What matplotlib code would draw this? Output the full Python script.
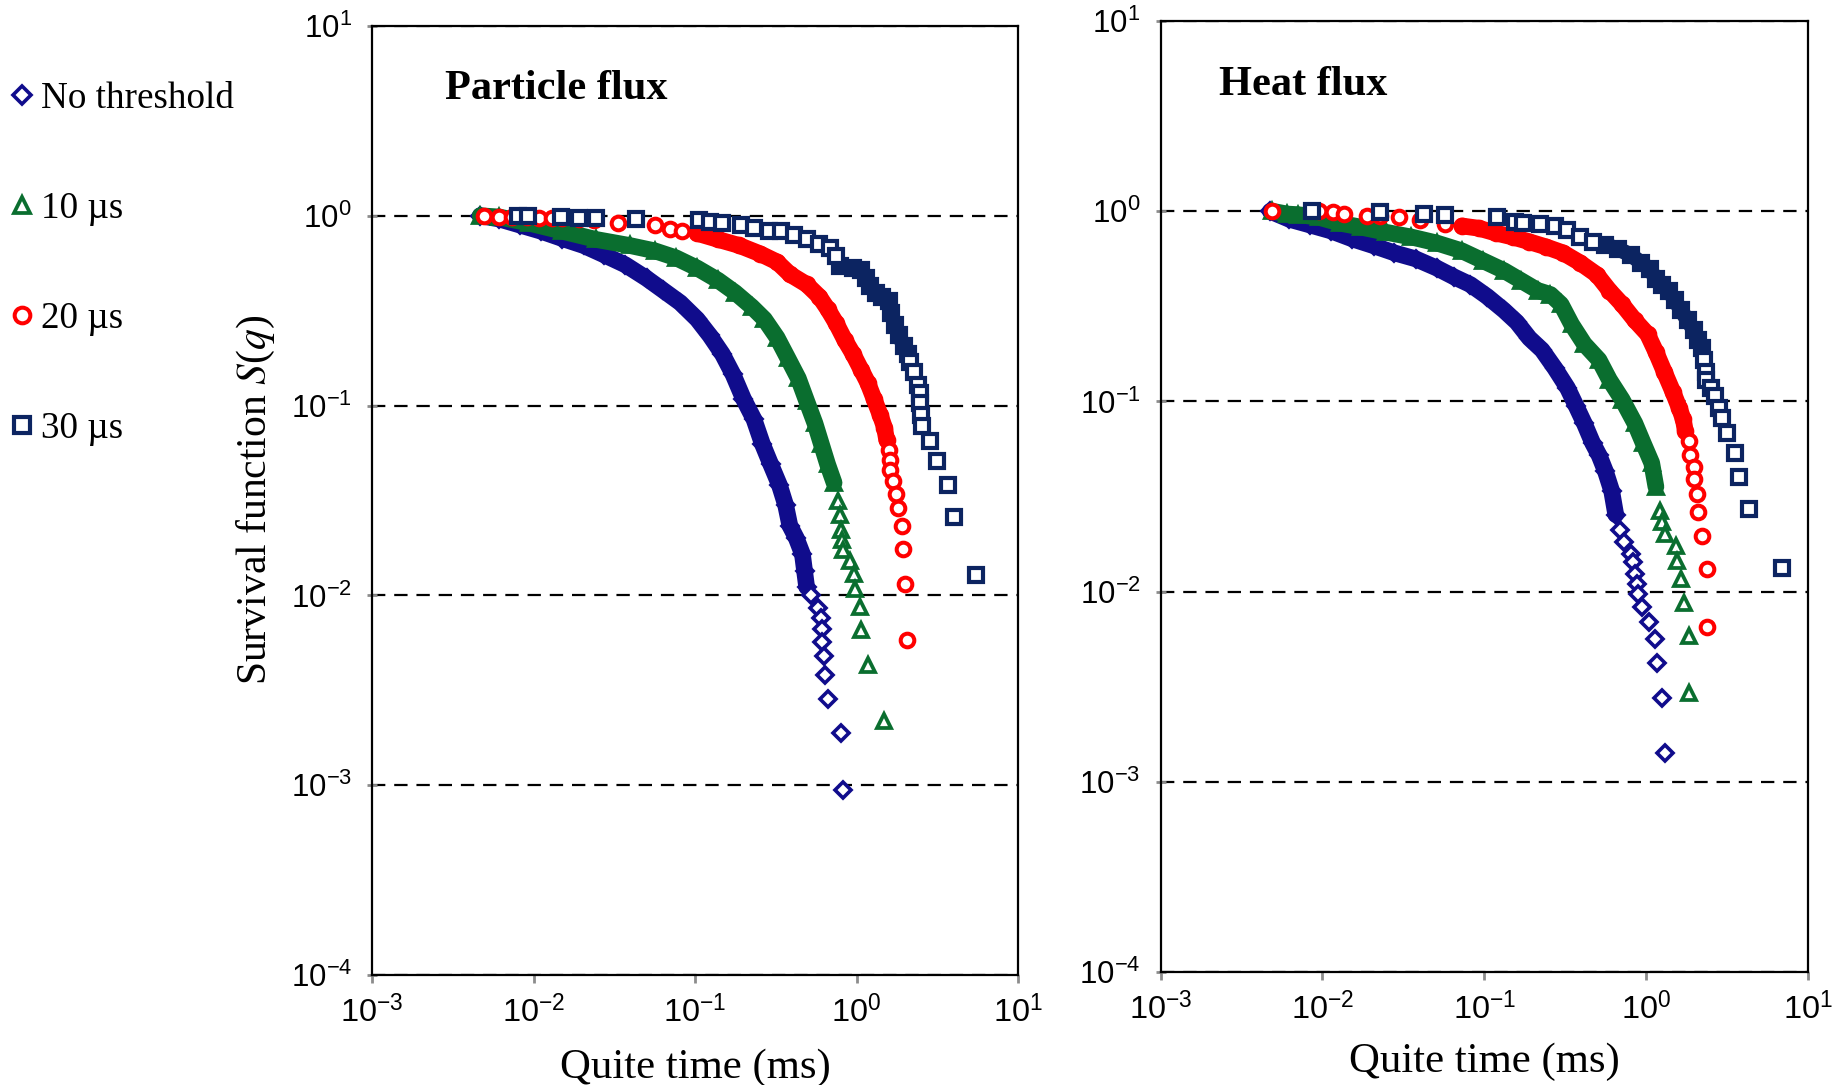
import numpy as np
import matplotlib
matplotlib.use('Agg')
import matplotlib.pyplot as plt
from matplotlib import font_manager
from matplotlib.lines import Line2D
from matplotlib.ticker import LogLocator, FuncFormatter, NullLocator

plt.rcParams['font.family'] = 'Liberation Serif'
plt.rcParams['mathtext.fontset'] = 'stix'

# === Data: quiet time q (ms) and survival S(q) ===
labels = ['No threshold', '10 \u00b5s', '20 \u00b5s', '30 \u00b5s']

# --- Particle flux ---
pf_nt_q = [0.00468, 0.00613, 0.00828, 0.01117, 0.0151, 0.0204, 0.0275, 0.0371, 0.0501, 0.0637,
           0.0811, 0.1031, 0.1234, 0.1476, 0.1718, 0.1995, 0.2317, 0.2612, 0.2944, 0.3324,
           0.3639, 0.3865, 0.4227, 0.4623, 0.4764, 0.4909, 0.5212,
           0.5808, 0.5984, 0.6095, 0.6095, 0.628, 0.640, 0.667, 0.798, 0.822]
pf_nt_s = [1.0, 0.961, 0.892, 0.828, 0.758, 0.697, 0.621, 0.551, 0.468, 0.404,
           0.348, 0.285, 0.234, 0.187, 0.146, 0.1084, 0.0846, 0.0628, 0.0490, 0.0383,
           0.0299, 0.0233, 0.0201, 0.0165, 0.0135, 0.01107, 0.01003,
           0.00856, 0.00756, 0.00665, 0.00567, 0.00477, 0.00381, 0.00286, 0.00189, 0.00094]

pf_10_q = [0.00468, 0.00613, 0.00933, 0.0151, 0.0244, 0.0394, 0.0565, 0.0763, 0.1031, 0.139,
           0.177, 0.225, 0.269, 0.322, 0.375, 0.436, 0.4909, 0.553, 0.605, 0.662, 0.726,
           0.771, 0.794, 0.798, 0.807, 0.822, 0.912, 0.962, 0.984, 1.047, 1.064, 1.180, 1.472]
pf_10_s = [1.0, 0.985, 0.915, 0.828, 0.750, 0.697, 0.653, 0.600, 0.530, 0.457,
           0.394, 0.331, 0.285, 0.228, 0.178, 0.139, 0.1057, 0.0805, 0.0628, 0.0490, 0.0392,
           0.0314, 0.0264, 0.0222, 0.0196, 0.0173, 0.0151, 0.0130, 0.01085, 0.00873, 0.00655,
           0.00432, 0.00218]

pf_20_q = [0.00491, 0.00613, 0.00735, 0.00906, 0.01084, 0.01297, 0.0151, 0.0192, 0.0237, 0.0333,
           0.0565, 0.0698, 0.0836,
           0.1031, 0.139, 0.188, 0.2535, 0.322, 0.3865, 0.4909, 0.588, 0.662, 0.748,
           0.843, 0.951, 1.072, 1.172, 1.283, 1.403, 1.489, 1.536,
           1.583, 1.612, 1.612, 1.681, 1.763, 1.796, 1.918, 1.928, 1.987, 2.062]
pf_20_s = [1.0, 0.99, 0.985, 0.98, 0.975, 0.972, 0.97, 0.961, 0.955, 0.92,
           0.892, 0.849, 0.836,
           0.808, 0.750, 0.697, 0.630, 0.571, 0.492, 0.435, 0.375, 0.323, 0.2714,
           0.2226, 0.187, 0.1533, 0.1322, 0.1084, 0.0889, 0.0766, 0.0660,
           0.0583, 0.0515, 0.0455, 0.0402, 0.0343, 0.0290, 0.0233, 0.0175, 0.01153, 0.00581]

pf_30_q = [0.00803, 0.00923, 0.0149, 0.0190, 0.0244, 0.0432, 0.1062, 0.1234, 0.1476, 0.1936,
           0.2317, 0.2856, 0.3428,
           0.410, 0.4909, 0.588, 0.683, 0.748, 0.794, 0.951, 1.072, 1.138, 1.208,
           1.321, 1.445, 1.583, 1.631, 1.733, 1.840, 1.953, 2.075, 2.137, 2.270,
           2.410, 2.454, 2.483, 2.512, 2.528,
           2.834, 3.157, 3.690, 4.036, 5.52]
pf_30_s = [1.0, 1.0, 0.985, 0.975, 0.971, 0.961, 0.947, 0.924, 0.915, 0.892,
           0.862, 0.836, 0.828,
           0.788, 0.750, 0.714, 0.679, 0.615, 0.543, 0.530, 0.517, 0.468, 0.424,
           0.394, 0.375, 0.3565, 0.307, 0.265, 0.234, 0.2065, 0.187, 0.1694, 0.1497,
           0.129, 0.1168, 0.1032, 0.0889, 0.0785,
           0.0651, 0.0510, 0.0383, 0.0260, 0.0128]

# --- Heat flux ---
hf_nt_q = [0.00476, 0.00623, 0.00841, 0.01136, 0.01534, 0.0207, 0.0279, 0.0377, 0.0509, 0.0647,
           0.0823, 0.1046, 0.1329, 0.1592, 0.1905, 0.228, 0.273, 0.327, 0.369, 0.416,
           0.469, 0.513, 0.561, 0.614, 0.651, 0.692, 0.734,
           0.804, 0.829, 0.855, 0.880, 0.896, 0.952, 1.047, 1.146, 1.174, 1.254, 1.308]
hf_nt_s = [1.0, 0.908, 0.846, 0.787, 0.715, 0.659, 0.604, 0.562, 0.503, 0.453,
           0.4114, 0.356, 0.301, 0.261, 0.215, 0.1864, 0.150, 0.118, 0.0952, 0.0767,
           0.0603, 0.0522, 0.0431, 0.0339, 0.0254, 0.0210, 0.0182,
           0.01573, 0.01429, 0.01238, 0.01098, 0.00973, 0.00831, 0.00696, 0.00561, 0.0042,
           0.00277, 0.00141]

hf_10_q = [0.00491, 0.00605, 0.00703, 0.00948, 0.0128, 0.0173, 0.0248, 0.0355, 0.0509, 0.0729,
           0.0985, 0.1329, 0.169, 0.215, 0.257, 0.299, 0.347, 0.416, 0.513, 0.595,
           0.713, 0.855, 0.963, 1.086, 1.153,
           1.224, 1.262, 1.308, 1.528, 1.566, 1.643, 1.713, 1.841, 1.841]
hf_10_s = [1.0, 0.967, 0.96, 0.930, 0.866, 0.825, 0.775, 0.732, 0.681, 0.619,
           0.549, 0.487, 0.432, 0.383, 0.365, 0.324, 0.2545, 0.2004, 0.1653, 0.130,
           0.1023, 0.0767, 0.0603, 0.0475, 0.0356,
           0.0267, 0.0231, 0.0202, 0.0174, 0.01457, 0.01163, 0.00872, 0.00588, 0.00293]

hf_20_q = [0.00491, 0.00948, 0.0117, 0.0136, 0.0189, 0.0226, 0.0297, 0.0400, 0.0574,
           0.0729, 0.0928, 0.118, 0.150, 0.1905, 0.2423, 0.308, 0.3914, 0.498, 0.595,
           0.713, 0.855, 1.023, 1.153, 1.300, 1.466, 1.604, 1.703, 1.754,
           1.841, 1.864, 1.979, 1.979, 2.076, 2.089, 2.231, 2.38, 2.39]
hf_20_s = [1.0, 1.0, 0.986, 0.962, 0.944, 0.940, 0.930, 0.896, 0.853,
           0.837, 0.814, 0.768, 0.732, 0.691, 0.649, 0.604, 0.536, 0.464, 0.383,
           0.324, 0.267, 0.226, 0.182, 0.143, 0.1126, 0.0929, 0.0804, 0.0697,
           0.0618, 0.0522, 0.0452, 0.0392, 0.0326, 0.0263, 0.0197, 0.0131, 0.00648]

hf_30_q = [0.00867, 0.0226, 0.0425, 0.0574, 0.1194, 0.1545, 0.174, 0.2213, 0.273, 0.327,
           0.3914, 0.469, 0.561, 0.672, 0.804, 0.935, 1.054, 1.153, 1.262, 1.380,
           1.510, 1.652, 1.808, 1.979, 2.101, 2.231, 2.299, 2.340, 2.369, 2.516,
           2.672, 2.837, 2.958,
           3.160, 3.54, 3.74, 4.32, 6.98]
hf_30_s = [1.0, 0.986, 0.967, 0.953, 0.930, 0.878, 0.866, 0.862, 0.837, 0.794,
           0.732, 0.688, 0.665, 0.634, 0.590, 0.536, 0.4985, 0.442, 0.411, 0.383,
           0.340, 0.301, 0.267, 0.237, 0.210, 0.191, 0.165, 0.143, 0.130, 0.118,
           0.1073, 0.0929, 0.0816,
           0.0681, 0.0535, 0.0401, 0.0273, 0.01336]

# index range of the densely packed part of each curve (drawn as a solid band)
pf_bands = [(0, 26), (0, 21), (13, 31), (18, 31)]
hf_bands = [(0, 25), (0, 25), (9, 28), (12, 26)]

# === Styles ===
colors = ['#100c8c', '#0a6e2f', '#ff0000', '#0c2461']
markers = ['D', '^', 'o', 's']
msizes = [8.0, 10.6, 9.8, 9.8]
mews = [2.6, 2.7, 2.9, 3.0]
band_lws = [12, 12, 12, 11]

installed = {f.name for f in font_manager.fontManager.ttflist}
tick_font = 'Liberation Sans Narrow' if 'Liberation Sans Narrow' in installed else 'Liberation Sans'
tick_scale = 1.0 if tick_font == 'Liberation Sans Narrow' else 0.9


def decade(v, pos):
    return r'$\mathregular{10^{%d}}$' % int(round(np.log10(v)))


def style_axes(ax):
    ax.set_xscale('log')
    ax.set_yscale('log')
    ax.set_xlim(1e-3, 1e1)
    ax.set_ylim(1e-4, 1e1)
    ax.xaxis.set_major_locator(LogLocator(base=10, numticks=10))
    ax.yaxis.set_major_locator(LogLocator(base=10, numticks=10))
    ax.xaxis.set_minor_locator(NullLocator())
    ax.yaxis.set_minor_locator(NullLocator())
    ax.xaxis.set_major_formatter(FuncFormatter(decade))
    ax.yaxis.set_major_formatter(FuncFormatter(decade))
    ax.grid(axis='y', which='major', color='black', lw=1.6, linestyle=(0, (6, 4)))
    ax.set_axisbelow(True)
    ax.tick_params(axis='x', direction='out', length=6, width=2, color='#8c8c8c',
                   labelsize=26 * tick_scale, pad=8, labelfontfamily=tick_font)
    ax.tick_params(axis='y', direction='inout', length=7, width=2, color='#8c8c8c',
                   labelsize=25 * tick_scale, pad=11, labelfontfamily=tick_font)
    for sp in ax.spines.values():
        sp.set_linewidth(1.6)
        sp.set_color('black')


def draw_series(ax, qs, ss, bands):
    for i, (q, s, band) in enumerate(zip(qs, ss, bands)):
        c = colors[i]
        b0, b1 = band
        ax.plot(q[b0:b1], s[b0:b1], color=c, lw=band_lws[i], solid_capstyle='round',
                solid_joinstyle='round')
        ax.plot(q[b0:b1], s[b0:b1], ls='none', marker=markers[i], ms=msizes[i],
                mew=mews[i], mec=c, mfc=c)
        rest = [k for k in range(len(q)) if not (b0 <= k < b1)]
        ax.plot([q[k] for k in rest], [s[k] for k in rest], ls='none', marker=markers[i],
                ms=msizes[i], mew=mews[i], mec=c, mfc='white')


fig = plt.figure(figsize=(18.47, 10.85), dpi=100)
ax1 = fig.add_axes([0.2014, 0.1014, 0.3498, 0.8747])
ax2 = fig.add_axes([0.6284, 0.1041, 0.3503, 0.8765])

style_axes(ax1)
style_axes(ax2)

draw_series(ax1, [pf_nt_q, pf_10_q, pf_20_q, pf_30_q],
            [pf_nt_s, pf_10_s, pf_20_s, pf_30_s], pf_bands)
draw_series(ax2, [hf_nt_q, hf_10_q, hf_20_q, hf_30_q],
            [hf_nt_s, hf_10_s, hf_20_s, hf_30_s], hf_bands)

ax1.text(0.113, 0.934, 'Particle flux', transform=ax1.transAxes, fontsize=30.5,
         fontweight='bold', ha='left', va='center')
ax2.text(0.090, 0.933, 'Heat flux', transform=ax2.transAxes, fontsize=30.5,
         fontweight='bold', ha='left', va='center')

ax1.set_ylabel('Survival function $S$($q$)', fontsize=30)
ax1.yaxis.set_label_coords(-0.1475, 0.5)
for ax, ly in [(ax1, -0.077), (ax2, -0.0745)]:
    ax.set_xlabel('Quite time (ms)', fontsize=30.8)
    ax.xaxis.set_label_coords(0.5, ly)

handles = [Line2D([], [], ls='none', marker=markers[i], ms=msizes[i] * 1.15,
                  mew=mews[i], mec=colors[i], mfc='white') for i in range(4)]
fig.legend(handles, labels, loc='upper left', bbox_to_anchor=(0.005, 0.9245),
           frameon=False, fontsize=26.7, labelspacing=2.03, handlelength=0.7,
           handletextpad=0.15, borderaxespad=0, borderpad=0)

fig.savefig('out.png', dpi=100)
